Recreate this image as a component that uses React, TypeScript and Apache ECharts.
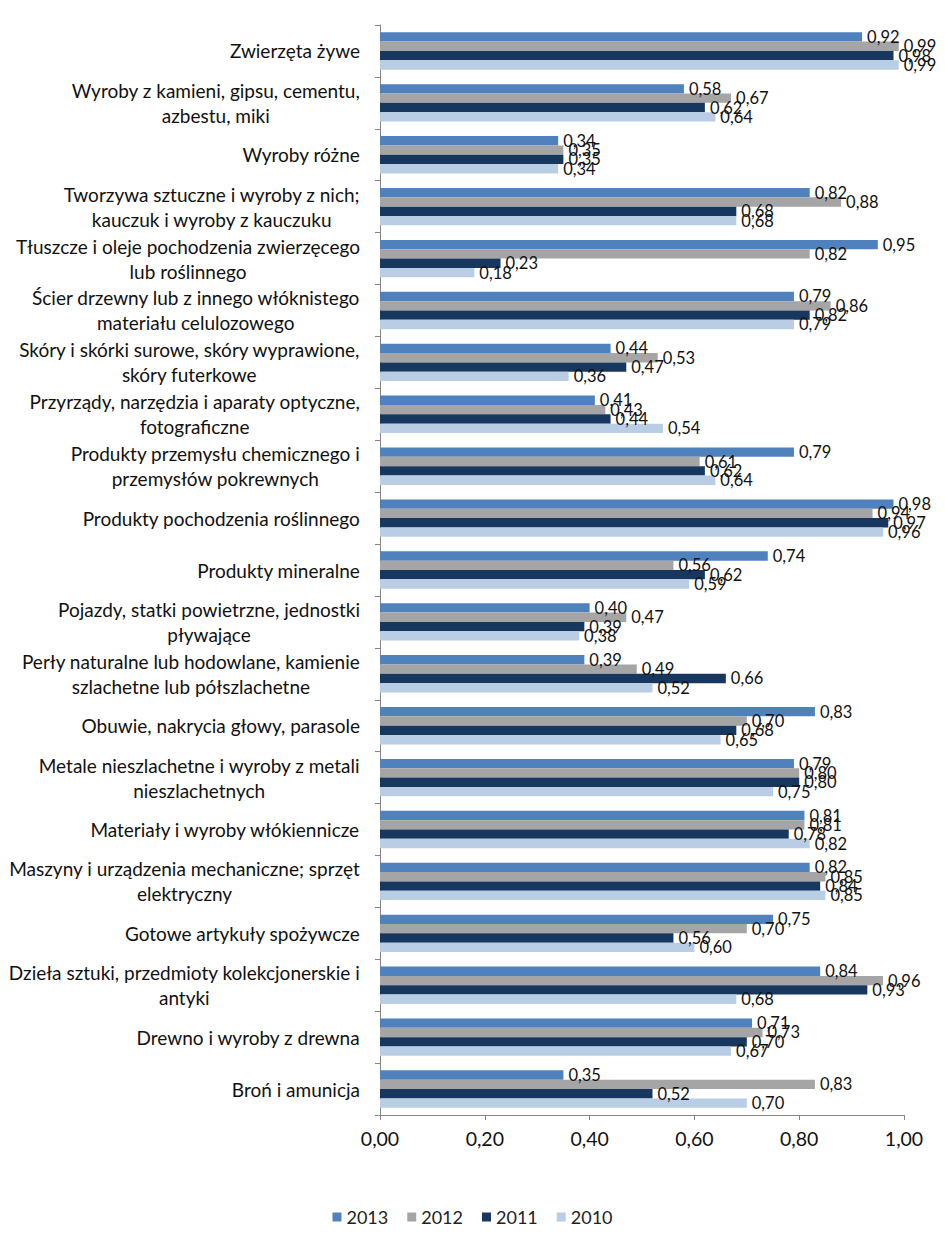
import React, { useEffect, useRef } from "react";
import * as echarts from "echarts";

const categories: string[] = [
  "Zwierzęta żywe",
  "Wyroby z kamieni, gipsu, cementu,\nazbestu, miki",
  "Wyroby różne",
  "Tworzywa sztuczne i wyroby z nich;\nkauczuk i wyroby z kauczuku",
  "Tłuszcze i oleje pochodzenia zwierzęcego\nlub roślinnego",
  "Ścier drzewny lub z innego włóknistego\nmateriału celulozowego",
  "Skóry i skórki surowe, skóry wyprawione,\nskóry futerkowe",
  "Przyrządy, narzędzia i aparaty optyczne,\nfotograficzne",
  "Produkty przemysłu chemicznego i\nprzemysłów pokrewnych",
  "Produkty pochodzenia roślinnego",
  "Produkty mineralne",
  "Pojazdy, statki powietrzne, jednostki\npływające",
  "Perły naturalne lub hodowlane, kamienie\nszlachetne lub półszlachetne",
  "Obuwie, nakrycia głowy, parasole",
  "Metale nieszlachetne i wyroby z metali\nnieszlachetnych",
  "Materiały i wyroby włókiennicze",
  "Maszyny i urządzenia mechaniczne; sprzęt\nelektryczny",
  "Gotowe artykuły spożywcze",
  "Dzieła sztuki, przedmioty kolekcjonerskie i\nantyki",
  "Drewno i wyroby z drewna",
  "Broń i amunicja",
];

const seriesNames: string[] = ["2013", "2012", "2011", "2010"];

const values2013: number[] = [0.92, 0.58, 0.34, 0.82, 0.95, 0.79, 0.44, 0.41, 0.79, 0.98, 0.74, 0.40, 0.39, 0.83, 0.79, 0.81, 0.82, 0.75, 0.84, 0.71, 0.35];
const values2012: number[] = [0.99, 0.67, 0.35, 0.88, 0.82, 0.86, 0.53, 0.43, 0.61, 0.94, 0.56, 0.47, 0.49, 0.70, 0.80, 0.81, 0.85, 0.70, 0.96, 0.73, 0.83];
const values2011: number[] = [0.98, 0.62, 0.35, 0.68, 0.23, 0.82, 0.47, 0.44, 0.62, 0.97, 0.62, 0.39, 0.66, 0.68, 0.80, 0.78, 0.84, 0.56, 0.93, 0.70, 0.52];
const values2010: number[] = [0.99, 0.64, 0.34, 0.68, 0.18, 0.79, 0.36, 0.54, 0.64, 0.96, 0.59, 0.38, 0.52, 0.65, 0.75, 0.82, 0.85, 0.60, 0.68, 0.67, 0.70];

const xTicks: number[] = [0, 0.2, 0.4, 0.6, 0.8, 1.0];

const colors: string[] = ["#4F81BD", "#A5A5A5", "#17375E", "#B9CDE5"];

const FONT = "Lato, 'Noto Sans', sans-serif";
const fmt = (v: number) => v.toFixed(2).replace(".", ",");

export default function App() {
  const ref = useRef<HTMLDivElement>(null);

  useEffect(() => {
    document.body.style.margin = "0";
    if (!ref.current) return;
    const chart = echarts.init(ref.current, undefined, { renderer: "svg" });
    const allValues = [values2013, values2012, values2011, values2010];
    const option: any = {
      animation: false,
      backgroundColor: "#ffffff",
      textStyle: { fontFamily: FONT },
      grid: { left: 380, right: 41, top: 25, bottom: 138, containLabel: false },
      legend: {
        bottom: 22,
        left: "center",
        itemWidth: 9,
        itemHeight: 9,
        itemGap: 19,
        icon: "rect",
        textStyle: { fontFamily: FONT, fontSize: 18, color: "#222" },
        data: seriesNames,
      },
      xAxis: {
        type: "value",
        min: 0,
        max: 1,
        interval: 0.2,
        splitLine: { show: false },
        axisLine: { show: true, lineStyle: { color: "#868686", width: 1 } },
        axisTick: { show: true, length: 5, inside: false, lineStyle: { color: "#868686" } },
        axisLabel: {
          fontFamily: FONT,
          fontSize: 19.5,
          color: "#111",
          margin: 13,
          formatter: (v: number) => (xTicks.some((t) => Math.abs(t - v) < 1e-9) ? fmt(v) : ""),
        },
      },
      yAxis: {
        type: "category",
        inverse: true,
        data: categories,
        axisLine: { show: true, lineStyle: { color: "#868686", width: 1 } },
        axisTick: { show: true, length: 5, alignWithLabel: false, lineStyle: { color: "#868686" } },
        axisLabel: {
          fontFamily: FONT,
          fontSize: 19,
          color: "#111",
          margin: 20,
          align: "right",
          lineHeight: 25,
          interval: 0,
          formatter: (v: string) =>
            v
              .split("\n")
              .map((l) => `{c|${l}}`)
              .join("\n"),
          rich: {
            c: { align: "center", fontFamily: FONT, fontSize: 19, color: "#111", lineHeight: 25 },
          },
        },
      },
      series: seriesNames.map((name, i) => ({
        name,
        type: "bar",
        data: allValues[i],
        barGap: "0%",
        barCategoryGap: "28%",
        itemStyle: { color: colors[i] },
        label: {
          show: true,
          position: "right",
          distance: 5,
          fontFamily: FONT,
          fontSize: 16.5,
          color: "#111",
          formatter: (p: any) => fmt(p.value),
        },
      })),
    };
    chart.setOption(option);
    return () => chart.dispose();
  }, []);

  return <div ref={ref} style={{ width: 945, height: 1253 }} />;
}
